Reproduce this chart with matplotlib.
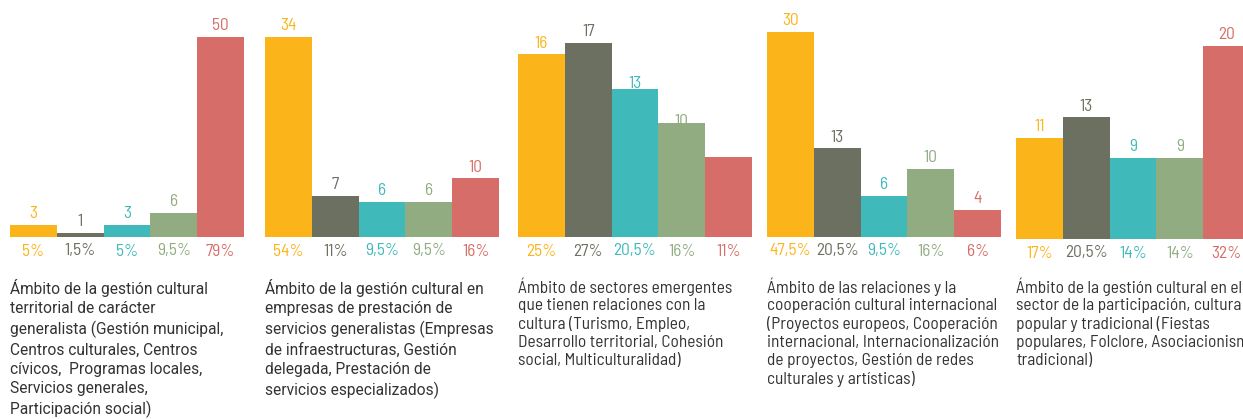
import matplotlib
matplotlib.use('Agg')
import matplotlib.pyplot as plt
from matplotlib import font_manager

# counts per area, bars in the same order in every panel
counts = [
    [3, 1, 3, 6, 50],
    [34, 7, 6, 6, 10],
    [16, 17, 13, 10, 7],
    [30, 13, 6, 10, 4],
    [11, 13, 9, 9, 20],
]
percents = [
    ['5%', '1,5%', '5%', '9,5%', '79%'],
    ['54%', '11%', '9,5%', '9,5%', '16%'],
    ['25%', '27%', '20,5%', '16%', '11%'],
    ['47,5%', '20,5%', '9,5%', '16%', '6%'],
    ['17%', '20,5%', '14%', '14%', '32%'],
]
titles = [
    'Ámbito de la gestión cultural\nterritorial de carácter\ngeneralista (Gestión municipal,\n'
    'Centros culturales, Centros\ncívicos,  Programas locales,\nServicios generales,\nParticipación social)',
    'Ámbito de la gestión cultural en\nempresas de prestación de\nservicios generalistas (Empresas\n'
    'de infraestructuras, Gestión\ndelegada, Prestación de\nservicios especializados)',
    'Ámbito de sectores emergentes\nque tienen relaciones con la\ncultura (Turismo, Empleo,\n'
    'Desarrollo territorial, Cohesión\nsocial, Multiculturalidad)',
    'Ámbito de las relaciones y la\ncooperación cultural internacional\n(Proyectos europeos, Cooperación\n'
    'internacional, Internacionalización\nde proyectos, Gestión de redes\nculturales y artísticas)',
    'Ámbito de la gestión cultural en el\nsector de la participación, cultura\npopular y tradicional (Fiestas\n'
    'populares, Folclore, Asociacionismo\ntradicional)',
]

colors = ['#fbb51b', '#6b7060', '#40b9ba', '#90ac80', '#d76d68']
# each panel has its own scale
ylims = [(0, 54.2), (0, 36.8), (0, 19.0), (0, 31.7), (1.04, 22.55)]
panel_left = [10, 265, 518, 767, 1016]
panel_bottom = [237, 237, 237, 237, 239]
# some value labels sit lower (and one is hidden behind its bar) in the original
label_shift = {(2, 2): -6, (2, 3): -10, (2, 4): -30}

installed = {f.name for f in font_manager.fontManager.ttflist}


def pick(*names):
    for n in names:
        if n in installed:
            return n
    return 'DejaVu Sans'


narrow = pick('Barlow Semi Condensed', 'Archivo Narrow', 'Barlow Condensed')
wide = pick('Roboto', 'Barlow')

W, H = 1243, 419
fig = plt.figure(figsize=(W / 100, H / 100), dpi=100)

for p in range(5):
    top = 20
    ax = fig.add_axes([panel_left[p] / W, (H - panel_bottom[p]) / H,
                       234 / W, (panel_bottom[p] - top) / H])
    xs = range(len(counts[p]))
    ax.bar(xs, counts[p], width=1.0, color=colors, zorder=2)
    ax.set_xlim(-0.5, 4.5)
    ax.set_ylim(*ylims[p])
    ax.axis('off')
    for i, v in enumerate(counts[p]):
        ax.annotate(str(v), (i, v), xytext=(0, 11 + label_shift.get((p, i), 0)),
                    textcoords='offset pixels', ha='center', va='center',
                    color=colors[i], fontsize=12.5, family=narrow, zorder=1,
                    annotation_clip=False)
        ax.annotate(percents[p][i], (i, ylims[p][0]), xytext=(0, -14),
                    textcoords='offset pixels', ha='center', va='center',
                    color=colors[i], fontsize=12.5, family=narrow,
                    annotation_clip=False)
    if p < 2:
        fig.text(panel_left[p] / W, 1 - 279 / H, titles[p], ha='left', va='top',
                 fontsize=11.2, family=wide, color='#333333', linespacing=1.35)
    else:
        fig.text(panel_left[p] / W, 1 - 277 / H, titles[p], ha='left', va='top',
                 fontsize=12.5, family=narrow, color='#333333', linespacing=1.23)

fig.savefig('out.png', dpi=100)
